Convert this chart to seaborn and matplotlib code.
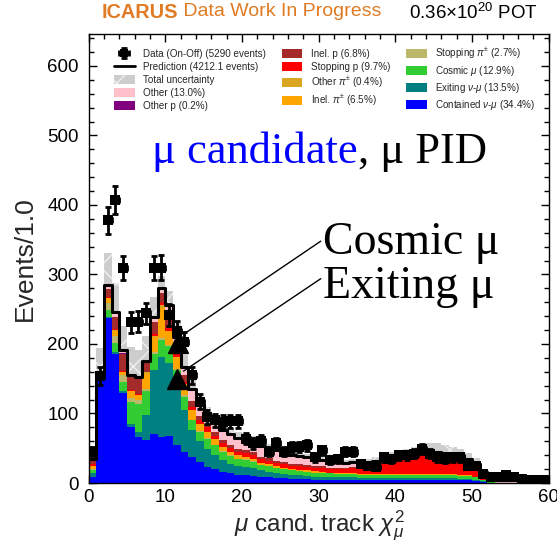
import numpy as np
import pandas as pd
import matplotlib
matplotlib.use("Agg")
import matplotlib.pyplot as plt
import seaborn as sns
from matplotlib.patches import Patch
from matplotlib.lines import Line2D
from matplotlib.ticker import MultipleLocator

# ---------------------------------------------------------------
# Binning: muon-candidate chi2 in unit-width bins from 0 to 60
# ---------------------------------------------------------------
bin_edges = list(range(0, 61))
bin_centers = np.arange(60) + 0.5

# Simulated components (events per bin)
contained_numu = [9, 148, 237, 186, 129, 81, 66, 62, 71, 66,
                  68, 55, 45, 37, 30, 23, 20, 16, 14, 12,
                  11, 10, 9, 8, 7, 7, 6, 6, 6, 5,
                  5, 5, 5, 5, 5, 5, 5, 5, 5, 5,
                  5, 5, 5, 5, 5, 5, 5, 5, 4, 4,
                  3, 2, 0, 0, 0, 0, 0, 0, 0, 0]
exiting_numu = [5, 2, 2, 2, 3, 4, 7, 36, 91, 115,
                105, 85, 60, 39, 31, 26, 21, 17, 14, 12,
                12, 11, 9, 8, 7, 6, 5, 5, 4, 4,
                4, 3, 3, 3, 3, 2, 2, 2, 2, 2,
                2, 2, 2, 2, 2, 2, 2, 2, 2, 2,
                1, 1, 0, 0, 0, 0, 0, 0, 0, 0]
cosmic_mu = [5, 3, 10, 14, 14, 31, 40, 34, 24, 25,
             24, 22, 19, 14, 13, 15, 13, 12, 11, 10,
             10, 9, 8, 8, 7, 7, 7, 6, 6, 6,
             6, 6, 5, 5, 5, 5, 5, 5, 5, 5,
             5, 5, 5, 5, 5, 5, 5, 5, 4, 4,
             4, 2, 1, 0, 0, 0, 0, 0, 0, 0]
stopping_pi = [1, 1, 10, 10, 10, 7, 7, 3, 2, 2,
               2, 2, 2, 1, 1, 1, 1, 1, 1, 1,
               1, 1, 0, 0, 0, 0, 0, 0, 0, 0,
               0, 0, 0, 0, 0, 0, 0, 0, 0, 0,
               0, 0, 0, 0, 0, 0, 0, 0, 0, 0,
               0, 0, 0, 0, 0, 0, 0, 0, 0, 0]
inel_pi = [4, 1, 7, 7, 4, 10, 7, 22, 22, 44,
           19, 17, 15, 14, 10, 9, 8, 6, 5, 5,
           4, 4, 3, 3, 3, 2, 2, 2, 2, 2,
           1, 1, 1, 1, 1, 1, 1, 1, 1, 1,
           1, 1, 1, 1, 1, 1, 1, 1, 1, 1,
           1, 0, 0, 0, 0, 0, 0, 0, 0, 0]
other_pi = [0, 0, 0, 1, 0, 0, 0, 2, 2, 4,
            1, 1, 1, 0, 0, 0, 0, 0, 0, 0,
            0, 0, 0, 0, 0, 0, 0, 0, 0, 0,
            0, 0, 0, 0, 0, 0, 0, 0, 0, 0,
            0, 0, 0, 0, 0, 0, 0, 0, 0, 0,
            0, 0, 0, 0, 0, 0, 0, 0, 0, 0]
stopping_p = [4, 0, 1, 2, 1, 1, 1, 1, 2, 3,
              4, 4, 4, 5, 5, 6, 5, 5, 5, 5,
              5, 5, 5, 5, 5, 5, 5, 5, 5, 5,
              5, 5, 6, 6, 7, 8, 10, 13, 16, 19,
              21, 23, 25, 27, 29, 29, 27, 25, 25, 21,
              16, 9, 1, 0, 0, 0, 0, 0, 0, 0]
inel_p = [3, 2, 12, 17, 25, 19, 22, 12, 18, 15,
          22, 14, 10, 8, 6, 5, 5, 5, 5, 4,
          4, 4, 4, 4, 3, 3, 3, 3, 3, 3,
          3, 2, 2, 2, 2, 1, 1, 1, 1, 1,
          1, 1, 1, 1, 1, 1, 1, 1, 1, 1,
          1, 0, 0, 0, 0, 0, 0, 0, 0, 0]
other_p = [0, 0, 0, 0, 1, 0, 0, 0, 0, 0,
           0, 0, 0, 0, 0, 0, 0, 0, 0, 0,
           0, 0, 0, 0, 0, 0, 0, 0, 0, 0,
           0, 0, 0, 0, 0, 0, 0, 0, 0, 0,
           0, 0, 0, 0, 0, 0, 0, 0, 0, 0,
           0, 0, 0, 0, 0, 0, 0, 0, 0, 0]
other = [4, 3, 6, 7, 5, 3, 3, 4, 7, 7,
         11, 10, 11, 17, 16, 12, 13, 14, 16, 16,
         17, 16, 15, 14, 15, 14, 13, 12, 11, 10,
         9, 9, 8, 7, 7, 6, 5, 4, 3, 3,
         2, 2, 2, 2, 2, 2, 2, 2, 2, 2,
         2, 2, 5, 4, 4, 4, 3, 3, 2, 2]

# Beam-on minus beam-off data counts
data_events = [45, 154, 378, 407, 309, 231, 232, 244, 309, 310,
               242, 218, 203, 155, 117, 95, 90, 88, 89, 89,
               64, 57, 61, 45, 57, 45, 52, 52, 54, 37,
               47, 33, 35, 45, 45, 28, 25, 23, 37, 35,
               40, 40, 42, 49, 42, 37, 35, 37, 37, 25,
               25, 13, 9, 9, 11, 9, 6, 5, 4, 4]

# Fractional total systematic uncertainty per bin
unc_frac = [0.20, 0.21, 0.16, 0.17, 0.18, 0.25, 0.25, 0.20, 0.12, 0.06,
            0.08, 0.10, 0.10, 0.12, 0.12, 0.12, 0.12, 0.12, 0.12, 0.12,
            0.12, 0.12, 0.12, 0.12, 0.12, 0.12, 0.12, 0.12, 0.12, 0.12,
            0.12, 0.12, 0.12, 0.12, 0.15, 0.18, 0.20, 0.22, 0.25, 0.25,
            0.25, 0.25, 0.25, 0.28, 0.28, 0.28, 0.28, 0.25, 0.25, 0.25,
            0.28, 0.30, 0.30, 0.30, 0.30, 0.30, 0.30, 0.30, 0.30, 0.30]

# Legend labels, listed top of stack first
labels = ["Other (13.0%)", "Other p (0.2%)", "Inel. p (6.8%)",
          "Stopping p (9.7%)", r"Other $\pi^{\pm}$ (0.4%)",
          r"Inel. $\pi^{\pm}$ (6.5%)", r"Stopping $\pi^{\pm}$ (2.7%)",
          r"Cosmic $\mu$ (12.9%)", r"Exiting $\nu$-$\mu$ (13.5%)",
          r"Contained $\nu$-$\mu$ (34.4%)"]
series = [other, other_p, inel_p, stopping_p, other_pi, inel_pi,
          stopping_pi, cosmic_mu, exiting_numu, contained_numu]
colors = ["#ffc0cb", "#800080", "#a52a2a", "#ff0000", "#daa520",
          "#ffa500", "#bdb76b", "#32cd32", "#008080", "#0000ff"]

data_label = "Data (On-Off) (5290 events)"
pred_label = "Prediction (4212.1 events)"
unc_label = "Total uncertainty"

# Annotation geometry (data coordinates)
cosmic_arrow = dict(start=(30.3, 348), end=(12.4, 214), head=(11.7, 201))
exiting_arrow = dict(start=(30.3, 294), end=(12.4, 161), head=(11.6, 149))

# ---------------------------------------------------------------
# Build long-form table for seaborn
# ---------------------------------------------------------------
rows = []
for lab, vals in zip(labels, series):
    for c, v in zip(bin_centers, vals):
        rows.append((c, v, lab))
df = pd.DataFrame(rows, columns=["chi2", "events", "category"])
total = np.sum(np.array(series, dtype=float), axis=0)
data_arr = np.array(data_events, dtype=float)
unc = np.array(unc_frac) * total

sns.set_theme(style="ticks")
plt.rcParams["font.family"] = ["Liberation Sans", "DejaVu Sans"]
plt.rcParams["mathtext.fontset"] = "custom"
plt.rcParams["mathtext.rm"] = "Liberation Sans"
plt.rcParams["mathtext.it"] = "Liberation Sans:italic"
plt.rcParams["mathtext.bf"] = "Liberation Sans:bold"
plt.rcParams["hatch.linewidth"] = 1.0

fig = plt.figure(figsize=(5.57, 5.43), dpi=100)
ax = fig.add_axes([88.5 / 557, 60 / 543, 460 / 557, 449 / 543])

# Total uncertainty band (behind the stack)
band_face = "#cdcdcd"
band_hatch = "#f0f0f0"
ax.stairs(total + unc, bin_edges, baseline=total - unc, fill=True,
          facecolor=band_face, edgecolor=band_hatch, hatch="x",
          linewidth=0, zorder=1)

# Stacked prediction
sns.histplot(data=df, x="chi2", weights="events", hue="category",
             hue_order=labels, palette=dict(zip(labels, colors)),
             bins=bin_edges, multiple="stack", element="step", fill=True,
             alpha=1, linewidth=0, legend=False, ax=ax, zorder=2)

# Prediction outline
sns.histplot(x=bin_centers, weights=total, bins=bin_edges, element="step",
             fill=False, color="black", linewidth=2.2, ax=ax, zorder=3)

# Data
data_handle = ax.errorbar(bin_centers, data_arr, yerr=np.sqrt(data_arr),
                          xerr=0.5, fmt="none", ecolor="black",
                          elinewidth=2, capsize=2.5, capthick=2, zorder=4)
ax.plot(bin_centers, data_arr, linestyle="none", marker="s", ms=6.5,
        mew=0, color="black", zorder=4)

# Arrows pointing at the two peaks
for arr in (cosmic_arrow, exiting_arrow):
    ax.plot([arr["start"][0], arr["end"][0]], [arr["start"][1], arr["end"][1]],
            color="black", lw=1.0, zorder=5)
    ax.plot(arr["head"][0], arr["head"][1], marker="^", ms=15,
            color="black", zorder=5)

# Axes styling
ax.set_xlim(0, 60)
ax.set_ylim(0, 646)
ax.xaxis.set_major_locator(MultipleLocator(10))
ax.xaxis.set_minor_locator(MultipleLocator(2))
ax.yaxis.set_major_locator(MultipleLocator(100))
ax.yaxis.set_minor_locator(MultipleLocator(20))
ax.tick_params(which="both", direction="in", top=True, right=True,
               colors="black", labelsize=13.5, width=1)
ax.tick_params(which="major", length=6)
ax.tick_params(which="minor", length=3.5)
ax.tick_params(axis="x", pad=4)
ax.tick_params(axis="y", pad=7)
for sp in ax.spines.values():
    sp.set_color("black")
    sp.set_linewidth(1.0)

ax.set_ylabel("Events/1.0", fontsize=19)
ax.yaxis.set_label_coords(-0.112, 0.5)
ax.set_xlabel(r"$\mu$ cand. track $\chi^{2}_{\mu}$", fontsize=17.5)
ax.xaxis.set_label_coords(0.503, -0.058)

# Legend
data_legend = (Line2D([], [], linestyle="none", marker="s", ms=6, mew=0,
                      color="black"), data_handle)
handles = [data_handle, Line2D([], [], color="black", lw=2),
           Patch(facecolor=band_face, edgecolor=band_hatch, hatch="x", lw=0)]
handles += [Patch(facecolor=c, lw=0) for c in colors]
handles[0] = data_legend
leg_labels = [data_label, pred_label, unc_label] + labels
ax.legend(handles, leg_labels,
          ncol=3, loc="upper left", bbox_to_anchor=(114 / 557, 1 - 46 / 543),
          bbox_transform=fig.transFigure, frameon=False, fontsize=7.1,
          handlelength=2.1, handleheight=1.0, handletextpad=0.85,
          columnspacing=1.6, labelspacing=0.3, borderpad=0,
          borderaxespad=0)

# Selection text
t1 = ax.text(8.3, 460, "μ candidate", color="#0000ff", fontsize=32,
             family="Liberation Serif", va="baseline", ha="left")
ax.annotate(", μ PID", xy=(1, 0), xycoords=t1, va="bottom", ha="left",
            color="black", fontsize=32, family="Liberation Serif")
ax.text(30.6, 345, "Cosmic μ", fontsize=33, family="Liberation Serif",
        va="center", ha="left", color="black")
ax.text(30.6, 282, "Exiting μ", fontsize=33, family="Liberation Serif",
        va="center", ha="left", color="black")

# Header
t2 = fig.text(102 / 557, 1 - 12 / 543, "ICARUS", color="#e07b24",
              fontsize=14.3, weight="bold", va="center", ha="left")
ax.annotate(" Data Work In Progress", xy=(1, 0.5), xycoords=t2,
            va="center", ha="left", color="#e07b24", fontsize=14,
            annotation_clip=False)
fig.text(538 / 557, 1 - 13 / 543, r"0.36$\times$10$^{20}$ POT",
         color="black", fontsize=13.5, va="center", ha="right")

fig.savefig("out.png", dpi=100)
